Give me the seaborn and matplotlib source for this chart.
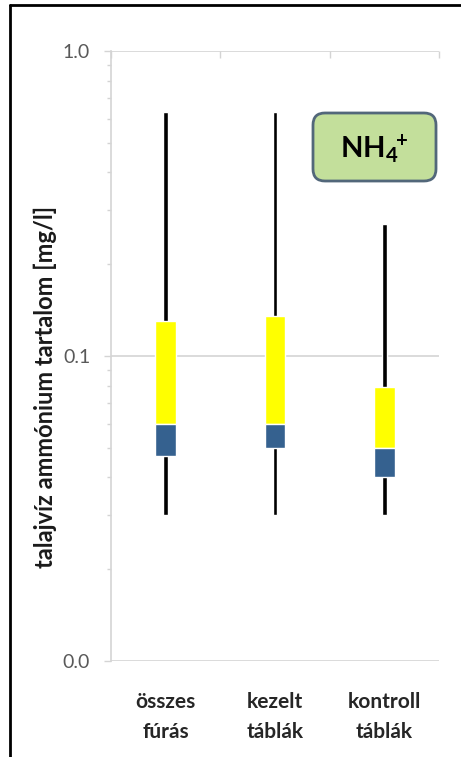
#!/usr/bin/env python3
import numpy as np
import pandas as pd
import seaborn as sns
import matplotlib.pyplot as plt
from matplotlib.patches import FancyBboxPatch
from matplotlib.lines import Line2D
from matplotlib.ticker import FixedLocator, LogLocator, NullFormatter

# data (mg/l)
categories = ['összes\nfúrás', 'kezelt\ntáblák', 'kontroll\ntáblák']
min_vals = [0.03, 0.03, 0.03]
q1_vals = [0.047, 0.05, 0.04]
median_vals = [0.06, 0.06, 0.05]
q3_vals = [0.13, 0.135, 0.079]
max_vals = [0.63, 0.63, 0.27]
ytick_vals = [0.01, 0.1, 1.0]
ytick_labels = ['0.0', '0.1', '1.0']

df = pd.DataFrame({'cat': categories, 'min': min_vals, 'q1': q1_vals,
                   'med': median_vals, 'q3': q3_vals, 'max': max_vals})

sns.set_style('white')
plt.rcParams['font.family'] = ['Lato', 'DejaVu Sans']
plt.rcParams['mathtext.fontset'] = 'custom'
plt.rcParams['mathtext.bf'] = 'Lato:bold'
plt.rcParams['mathtext.rm'] = 'Lato:bold'

fig = plt.figure(figsize=(4.61, 7.57), dpi=100)
ax = fig.add_axes([111 / 461, 1 - 661 / 757, 328 / 461, 610 / 757])
ax.set_yscale('log')

grid_c = '#d4d4d4'

# whisker (min to max)
sns.barplot(data=df, x='cat', y=df['max'] - df['min'], bottom=df['min'],
            width=0.045, color='black', saturation=1, ax=ax, zorder=3)
# median to q3 (yellow)
sns.barplot(data=df, x='cat', y=df['q3'] - df['med'], bottom=df['med'],
            width=0.19, color='#ffff00', saturation=1, ax=ax, zorder=4)
# q1 to median (blue)
sns.barplot(data=df, x='cat', y=df['med'] - df['q1'], bottom=df['q1'],
            width=0.19, color='#35618f', saturation=1, ax=ax, zorder=4)

ax.set_xlim(-0.5, 2.5)
ax.set_ylim(0.01, 1.0)

ax.yaxis.set_major_locator(FixedLocator(ytick_vals))
ax.set_yticklabels(ytick_labels)
ax.yaxis.set_minor_locator(LogLocator(base=10, subs=np.arange(2, 10)))
ax.yaxis.set_minor_formatter(NullFormatter())
ax.tick_params(axis='y', which='major', left=True, length=5, width=1,
               color=grid_c, labelsize=14, labelcolor='#595959', pad=10)
ax.tick_params(axis='y', which='minor', left=True, length=3, width=1,
               color=grid_c)
ax.grid(axis='y', which='major', color=grid_c, linewidth=1.2, zorder=0)
ax.set_axisbelow(True)

ax.set_xticks([-0.5, 0.5, 1.5, 2.5], minor=True)
ax.tick_params(axis='x', which='minor', top=True, bottom=False,
               direction='in', length=5, width=1, color=grid_c)
ax.tick_params(axis='x', which='major', length=0, labelsize=15, pad=22,
               labelcolor='#262626')
for lab in ax.get_xticklabels():
    lab.set_fontweight('bold')
    lab.set_linespacing(1.65)

for side in ['top', 'right', 'bottom']:
    ax.spines[side].set_visible(False)
ax.spines['left'].set_color(grid_c)
ax.spines['left'].set_linewidth(1.2)

ax.set_xlabel('')
ax.set_ylabel('talajvíz ammónium tartalom [mg/l]', fontsize=17,
              fontweight='bold', color='#1a1a1a')
ax.yaxis.set_label_coords(-0.165, 0.45)

# NH4+ label box
box = FancyBboxPatch((3.13, 5.76), 1.23, 0.68,
                     boxstyle='round,pad=0,rounding_size=0.12',
                     transform=fig.dpi_scale_trans, facecolor='#c3df9b',
                     edgecolor='#52677a', linewidth=2, zorder=5)
fig.add_artist(box)
fig.text(3.745 / 4.61, 6.08 / 7.57, r'$\mathbf{NH_4{}^{\!\!+}}$', fontsize=21,
         ha='center', va='center', color='black', zorder=6)

# outer frame
fig.add_artist(Line2D([10 / 461, 10 / 461], [0, 1 - 5 / 757],
                      transform=fig.transFigure, color='black', linewidth=2))
fig.add_artist(Line2D([10 / 461, 1], [1 - 5 / 757, 1 - 5 / 757],
                      transform=fig.transFigure, color='black', linewidth=2))

fig.savefig('out.png', dpi=100, facecolor='white')
